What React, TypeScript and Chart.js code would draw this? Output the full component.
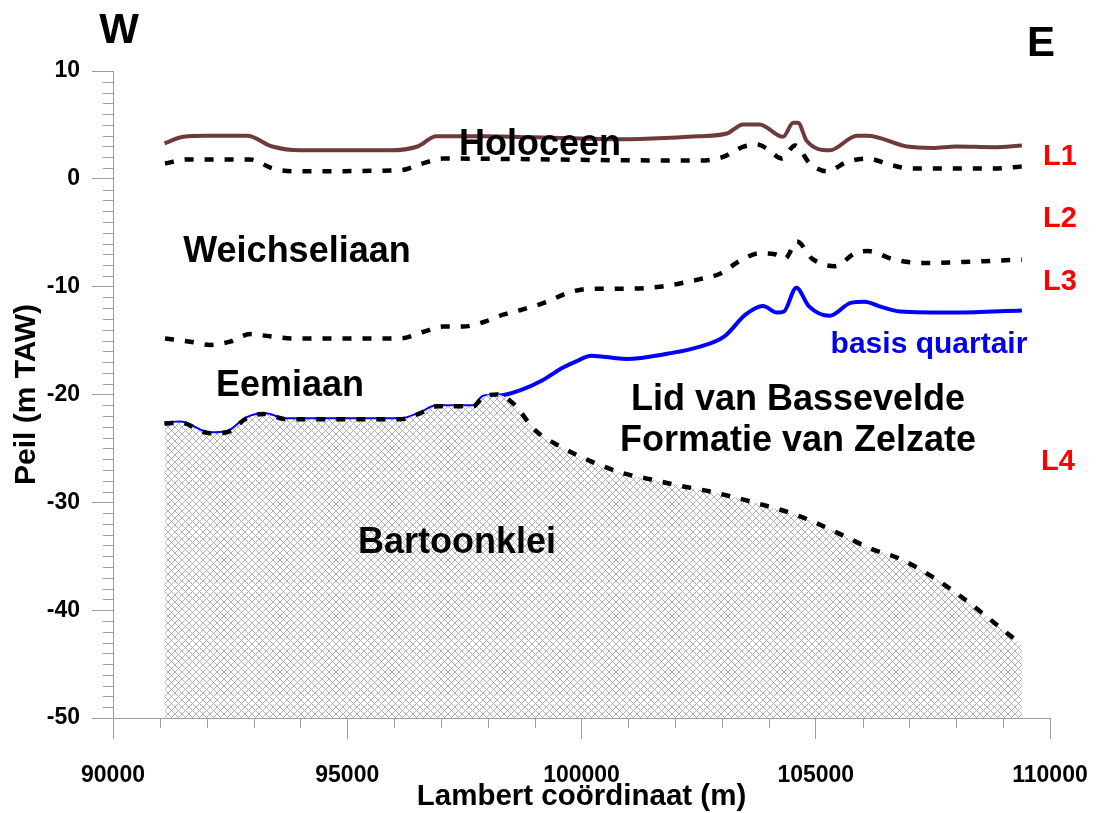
import React, { useEffect, useRef } from 'react';
import { Chart, registerables } from 'chart.js';

Chart.register(...registerables);

// ---- Data (Lambert x in m, level in m TAW) ----
const holoceenTopX = [91100, 91500, 92000, 92860, 93400, 94000, 95000, 95900, 96500, 96900, 98000, 99000, 100000, 100700, 101500, 102500, 103100, 103450, 103800, 104300, 104520, 104620, 104810, 105300, 105880, 106100, 106950, 107500, 108000, 108800, 109400];
const holoceenTopY = [3.3, 3.9, 4.0, 4.0, 3.0, 2.65, 2.65, 2.65, 3.0, 3.95, 3.95, 3.85, 3.75, 3.67, 3.75, 3.95, 4.2, 5.05, 5.05, 3.9, 5.2, 5.2, 3.5, 2.65, 4.0, 4.0, 3.0, 2.87, 3.0, 2.93, 3.1];

const holoceenBaseX = [91110, 91580, 92924, 93415, 93842, 96126, 96617, 97044, 101035, 102530, 103020, 103447, 103746, 103960, 104280, 104557, 104877, 105240, 105667, 106094, 106585, 107012, 108784, 109296, 109400];
const holoceenBaseY = [1.42, 1.8, 1.8, 0.95, 0.7, 0.8, 1.44, 1.88, 1.72, 1.7, 2.03, 2.96, 3.18, 2.8, 1.88, 3.1, 1.42, 0.7, 1.57, 1.88, 1.32, 0.95, 0.95, 1.1, 1.15];

const weichselBaseX = [91110, 91643, 92070, 92497, 92924, 93350, 93842, 96126, 96617, 97044, 97471, 97898, 98325, 98751, 99264, 99690, 100181, 100822, 101676, 102530, 102957, 103383, 103810, 104130, 104344, 104600, 104920, 105411, 105838, 106115, 106649, 107225, 109400];
const weichselBaseY = [-14.8, -15.1, -15.4, -15.1, -14.4, -14.6, -14.8, -14.8, -14.2, -13.7, -13.7, -13.3, -12.6, -12.1, -11.4, -10.6, -10.2, -10.2, -10.0, -9.3, -8.8, -7.6, -6.9, -7.0, -7.4, -5.8, -7.4, -8.1, -6.9, -6.7, -7.45, -7.8, -7.5];

const basisQuartairX = [91100, 91430, 92070, 92427, 92854, 93208, 93708, 96126, 96553, 96909, 97691, 97904, 98261, 98700, 99157, 99607, 99900, 100207, 100957, 101855, 102530, 103052, 103500, 103874, 104173, 104322, 104587, 104850, 105299, 105746, 106047, 106346, 106797, 107994, 109400];
const basisQuartairY = [-22.7, -22.6, -23.6, -23.5, -22.2, -21.8, -22.3, -22.3, -21.75, -21.1, -21.1, -20.2, -20.1, -19.6, -18.7, -17.5, -16.9, -16.4, -16.7, -16.2, -15.56, -14.6, -12.6, -11.8, -12.4, -12.3, -10.1, -11.8, -12.7, -11.5, -11.4, -11.8, -12.3, -12.4, -12.2];

const bartoonTopX = [91100, 91430, 92070, 92427, 92854, 93208, 93708, 96126, 96553, 96909, 97691, 97904, 98200, 98559, 99007, 99541, 100203, 100886, 101398, 102145, 102743, 103501, 104664, 105500, 106179, 106777, 107524, 108271, 109018, 109400];
const bartoonTopY = [-22.7, -22.6, -23.6, -23.5, -22.2, -21.8, -22.3, -22.3, -21.75, -21.1, -21.1, -20.2, -20.0, -20.9, -23.3, -24.8, -26.2, -27.3, -27.8, -28.5, -29.0, -29.8, -31.3, -32.9, -34.3, -35.2, -37.0, -39.3, -41.9, -43.2];

const X_MIN = 90000;
const X_MAX = 110000;
const Y_MIN = -50;
const Y_MAX = 10;

const AXIS = '#9c9c9c';
const FONT = "'Liberation Sans', Arial, Helvetica, sans-serif";

const annotations = [
  { text: 'W', x: 90128, y: 13.7, size: 42, color: '#000' },
  { text: 'E', x: 109808, y: 12.5, size: 42, color: '#000' },
  { text: 'L1', x: 110213, y: 2.0, size: 29, color: '#ff0000' },
  { text: 'L2', x: 110213, y: -3.74, size: 29, color: '#ff0000' },
  { text: 'L3', x: 110213, y: -9.57, size: 29, color: '#ff0000' },
  { text: 'L4', x: 110171, y: -26.3, size: 29, color: '#ff0000' },
  { text: 'Holoceen', x: 99114, y: 3.1, size: 36, color: '#000' },
  { text: 'Weichseliaan', x: 93927, y: -6.8, size: 36, color: '#000' },
  { text: 'Eemiaan', x: 93778, y: -19.2, size: 36, color: '#000' },
  { text: 'Lid van Bassevelde', x: 104621, y: -20.5, size: 36, color: '#000' },
  { text: 'Formatie van Zelzate', x: 104621, y: -24.3, size: 36, color: '#000' },
  { text: 'basis quartair', x: 107417, y: -15.4, size: 30, color: '#0000ee' },
  { text: 'Bartoonklei', x: 97343, y: -33.8, size: 36, color: '#000' },
];

const pts = (xs: number[], ys: number[]) => xs.map((x, i) => ({ x, y: ys[i] }));

const decorPlugin = {
  id: 'decor',
  afterDraw(chart: any) {
    const { ctx } = chart;
    const xs = chart.scales.x;
    const ys = chart.scales.y;
    const left = chart.chartArea.left;
    const bottom = chart.chartArea.bottom;
    ctx.save();
    ctx.strokeStyle = AXIS;
    ctx.lineWidth = 1;
    ctx.beginPath();
    for (let v = Y_MIN; v <= Y_MAX; v += 1) {
      if (v % 10 === 0) continue;
      const py = Math.round(ys.getPixelForValue(v)) + 0.5;
      ctx.moveTo(left - 10, py);
      ctx.lineTo(left, py);
    }
    for (let v = X_MIN; v <= X_MAX; v += 1000) {
      if (v % 5000 === 0) continue;
      const px = Math.round(xs.getPixelForValue(v)) + 0.5;
      ctx.moveTo(px, bottom);
      ctx.lineTo(px, bottom + 10);
    }
    ctx.stroke();
    ctx.textAlign = 'center';
    ctx.textBaseline = 'middle';
    for (const a of annotations) {
      ctx.font = `bold ${a.size}px ${FONT}`;
      ctx.fillStyle = a.color;
      ctx.fillText(a.text, xs.getPixelForValue(a.x), ys.getPixelForValue(a.y));
    }
    ctx.restore();
  },
};

export default function App() {
  const ref = useRef<HTMLCanvasElement>(null);
  useEffect(() => {
    const canvas = ref.current!;
    const tile = document.createElement('canvas');
    const P = 7;
    tile.width = P;
    tile.height = P;
    const t = tile.getContext('2d')!;
    t.fillStyle = '#ffffff';
    t.fillRect(0, 0, P, P);
    t.strokeStyle = '#a8a8a8';
    t.lineWidth = 0.9;
    t.beginPath();
    t.moveTo(-1, -1);
    t.lineTo(P + 1, P + 1);
    t.moveTo(P + 1, -1);
    t.lineTo(-1, P + 1);
    t.stroke();
    const pattern = canvas.getContext('2d')!.createPattern(tile, 'repeat');

    const dashed = {
      borderColor: '#000000',
      borderWidth: 4.5,
      borderDash: [9, 11],
      pointRadius: 0,
      fill: false,
      cubicInterpolationMode: 'monotone' as const,
    };

    const chart = new Chart(canvas, {
      type: 'line',
      data: {
        datasets: [
          { label: 'Basis Holoceen', data: pts(holoceenBaseX, holoceenBaseY), ...dashed },
          { label: 'Basis Weichseliaan', data: pts(weichselBaseX, weichselBaseY), ...dashed },
          { label: 'Top Bartoonklei', data: pts(bartoonTopX, bartoonTopY), ...dashed, fill: 'start', backgroundColor: pattern as any },
          { label: 'Maaiveld', data: pts(holoceenTopX, holoceenTopY), borderColor: '#6e3a3a', borderWidth: 4, pointRadius: 0, fill: false, cubicInterpolationMode: 'monotone' },
          { label: 'Basis quartair', data: pts(basisQuartairX, basisQuartairY), borderColor: '#0000ff', borderWidth: 4, pointRadius: 0, fill: false, cubicInterpolationMode: 'monotone' },
        ],
      },
      options: {
        animation: false,
        responsive: true,
        maintainAspectRatio: false,
        layout: { padding: { left: 0, top: 71, right: 47, bottom: 0 } },
        plugins: {
          legend: { display: false },
          tooltip: { enabled: false },
        },
        scales: {
          x: {
            type: 'linear',
            min: X_MIN,
            max: X_MAX,
            afterFit: (s: any) => { s.height = 95; s.paddingLeft = 0; s.paddingRight = 0; },
            ticks: {
              stepSize: 5000,
              padding: 23,
              color: '#000',
              font: { family: FONT, size: 23, weight: 'bold' },
              callback: (v: any) => String(v),
              maxRotation: 0,
            },
            grid: { drawOnChartArea: false, tickLength: 21, tickColor: AXIS, color: AXIS },
            border: { color: AXIS, width: 1 },
            title: {
              display: true,
              text: 'Lambert coördinaat (m)',
              color: '#000',
              font: { family: FONT, size: 29.5, weight: 'bold' },
              padding: { top: 0, bottom: -2 },
            },
          },
          y: {
            type: 'linear',
            min: Y_MIN,
            max: Y_MAX,
            afterFit: (s: any) => { s.width = 113; s.paddingTop = 0; s.paddingBottom = 0; },
            ticks: {
              stepSize: 10,
              padding: 12,
              color: '#000',
              font: { family: FONT, size: 23, weight: 'bold' },
            },
            grid: { drawOnChartArea: false, tickLength: 21, tickColor: AXIS, color: AXIS },
            border: { color: AXIS, width: 1 },
            title: {
              display: true,
              text: 'Peil (m TAW)',
              color: '#000',
              font: { family: FONT, size: 30, weight: 'bold' },
              padding: { top: 9, bottom: 0 },
            },
          },
        },
      },
      plugins: [decorPlugin],
    });
    return () => chart.destroy();
  }, []);

  return (
    <div style={{ position: 'fixed', left: 0, top: 0, width: 1097, height: 813, background: '#fff' }}>
      <canvas ref={ref} />
    </div>
  );
}
